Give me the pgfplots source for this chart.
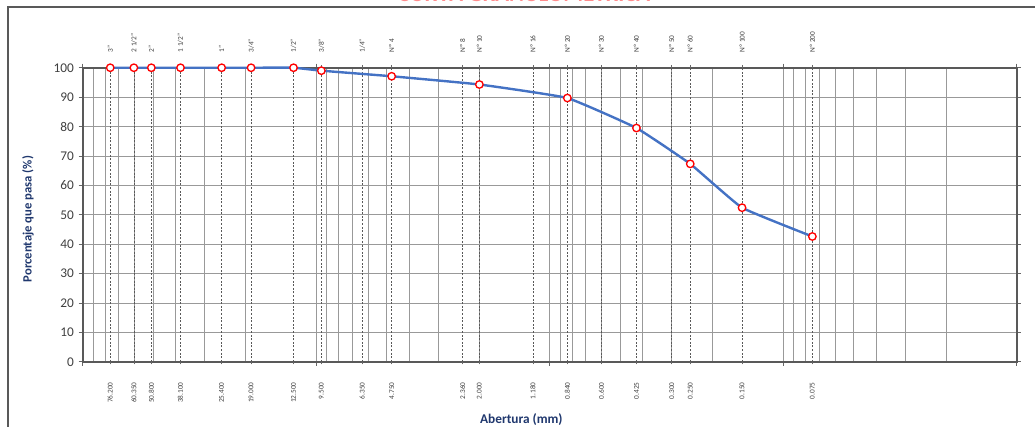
\documentclass[border=0pt]{standalone}
\usepackage{pgfplots}
\pgfplotsset{compat=1.18}
\usepackage{fontspec}
\setmainfont{Carlito}
\definecolor{navy}{RGB}{32,56,110}
\definecolor{lineblue}{RGB}{68,114,196}
\definecolor{tickgray}{RGB}{64,64,64}
\begin{document}
\begin{tikzpicture}
\path[use as bounding box] (-62pt,-48.2pt) rectangle (714.25pt,271.3pt);
% partial title (cut by the page edge, as in the reference)
\node[anchor=base, text=red!45, font=\fontsize{17}{18}\bfseries] at (331pt,270.4pt) {CURVA GRANULOMÉTRICA};
% outer frame (top and left edges visible)
\draw[black!65, line width=1.6pt] (-56.2pt,-60pt) -- (-56.2pt,265.8pt) -- (730pt,265.8pt);
\begin{axis}[
  scale only axis,
  width=700.5pt, height=220.5pt,
  xmode=log, x dir=reverse,
  xmin=0.01, xmax=100,
  ymin=0, ymax=100,
  ytick={0,10,...,100},
  xtick={0.01,0.1,1,10,100},
  xticklabels={,,,,},
  minor xtick={0.02,0.03,0.04,0.05,0.06,0.07,0.08,0.09,0.2,0.3,0.4,0.5,0.6,0.7,0.8,0.9,2,3,4,5,6,7,8,9,20,30,40,50,60,70,80,90},
  xmajorgrids, xminorgrids, ymajorgrids,
  major grid style={black!40, line width=0.6pt},
  minor grid style={black!40, line width=0.6pt},
  axis line style={black!65, line width=1.3pt},
  tick align=outside,
  major tick length=3pt, minor tick length=0pt,
  tick style={black!60, line width=0.5pt},
  /pgf/number format/assume math mode=true,
  y tick label style={font=\fontsize{10}{12}\selectfont, text=tickgray},
  extra x ticks={76.2,60.35,50.8,38.1,25.4,19.0,12.5,9.5,6.35,4.75,2.36,2.0,1.18,0.84,0.6,0.425,0.3,0.25,0.15,0.075},
  extra x tick labels={76.200,60.350,50.800,38.100,25.400,19.000,12.500,9.500,6.350,4.750,2.360,2.000,1.180,0.840,0.600,0.425,0.300,0.250,0.150,0.075},
  extra x tick style={
    xmajorgrids=true,
    major grid style={black!65, dash pattern=on 1.5pt off 1.2pt, line width=0.45pt},
    major tick length=2pt,
    tick label style={yshift=-10pt, rotate=90, anchor=east, font=\fontsize{5.5}{6}\selectfont, text=tickgray},
  },
  clip=false,
]
\addplot[smooth, tension=0.2, color=lineblue, line width=1.8pt,
  mark=*, mark size=2.8pt, mark options={draw=red, fill=white, line width=1pt, solid}]
  coordinates {
  (76.2,100) (60.35,100) (50.8,100) (38.1,100) (25.4,100) (19.0,100) (12.5,100)
  (9.5,99.0) (4.75,97.1) (2.0,94.3) (0.84,89.7) (0.425,79.5) (0.25,67.3) (0.15,52.4) (0.075,42.6)
  };
\end{axis}
\begin{axis}[
  scale only axis,
  width=700.5pt, height=220.5pt,
  xmode=log, x dir=reverse,
  xmin=0.01, xmax=100,
  ymin=0, ymax=100,
  hide y axis,
  axis x line*=top,
  axis line style={draw=none},
  major tick length=0pt,
  xtick={76.2,60.35,50.8,38.1,25.4,19.0,12.5,9.5,6.35,4.75,2.36,2.0,1.18,0.84,0.6,0.425,0.3,0.25,0.15,0.075},
  xticklabels={3",2 1/2",2",1 1/2",1",3/4",1/2",3/8",1/4",Nº 4,Nº 8,Nº 10,Nº 16,Nº 20,Nº 30,Nº 40,Nº 50,Nº 60,Nº 100,Nº 200},
  x tick label style={yshift=8pt, rotate=90, anchor=west, font=\fontsize{5.5}{6}\selectfont, text=tickgray},
]
\addplot[draw=none] coordinates {(1,50)};
\end{axis}
\node[rotate=90, text=navy, font=\fontsize{9.5}{11}\bfseries] at (-41pt,107pt) {Porcentaje que pasa (\%)};
\node[text=navy, font=\fontsize{10}{12}\bfseries] at (329pt,-43pt) {Abertura (mm)};
\end{tikzpicture}
\end{document}
